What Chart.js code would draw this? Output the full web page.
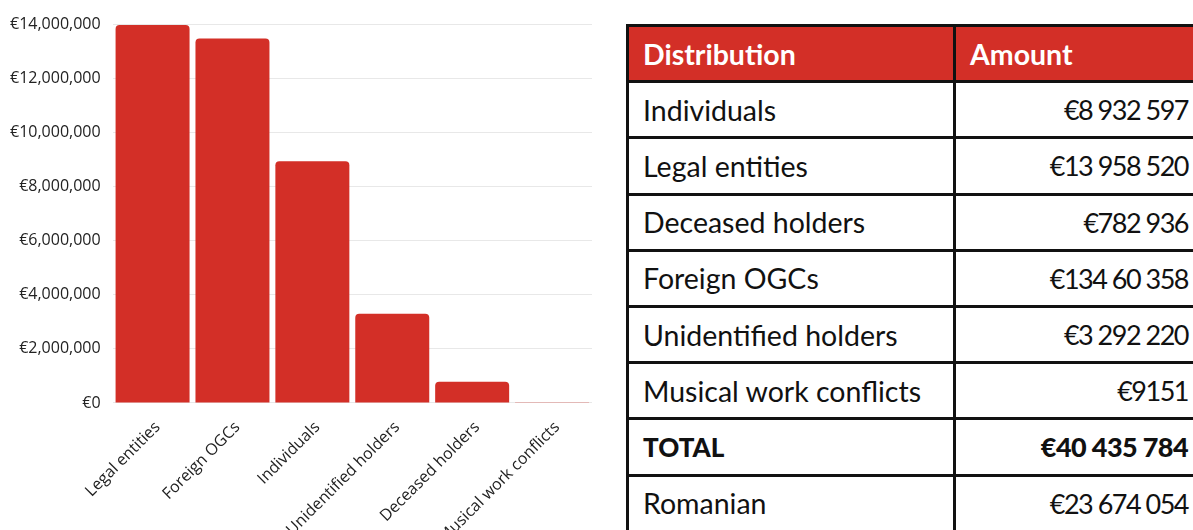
<!DOCTYPE html>
<html>
<head>
<meta charset="utf-8">
<script src="https://cdn.jsdelivr.net/npm/chart.js@4"></script>
<style>
  html, body { margin: 0; padding: 0; background: #fff; overflow: hidden; width: 1193px; height: 530px; }
  #chartBox { position: absolute; left: -2px; top: 0; width: 596px; height: 554px; }
  #tbl { position: absolute; left: 626px; top: 24px; width: 582px; table-layout: fixed; border-collapse: collapse; font-family: Lato, sans-serif; font-size: 28.5px; color: #111; }
  #tbl td, #tbl th { border: 3px solid #111; height: 56.2px; padding: 0 14px; box-sizing: border-box; }
  #tbl th { background: #d32f27; color: #fff; font-weight: 700; text-align: left; font-size: 28.5px; }
  #tbl td.num { text-align: right; font-size: 27px; letter-spacing: -1.5px; padding-right: 17px; }
  #tbl tr.total td { font-weight: 900; font-size: 26px; }
  #tbl tr.total td.num { letter-spacing: -0.6px; font-size: 27px; }
</style>
</head>
<body>
<div id="chartBox"><canvas id="c"></canvas></div>
<table id="tbl">
  <colgroup><col style="width:327px"><col></colgroup>
  <thead><tr><th>Distribution</th><th>Amount</th></tr></thead>
  <tbody id="tb"></tbody>
</table>
<script>
const categories = ["Legal entities", "Foreign OGCs", "Individuals", "Unidentified holders", "Deceased holders", "Musical work conflicts"];
const amounts = [13958520, 13460358, 8932597, 3292220, 782936, 9151];
const yTicks = [0, 2000000, 4000000, 6000000, 8000000, 10000000, 12000000, 14000000];

const tableLabels = ["Individuals", "Legal entities", "Deceased holders", "Foreign OGCs", "Unidentified holders", "Musical work conflicts", "TOTAL", "Romanian"];
const tableAmounts = ["€8 932 597", "€13 958 520", "€782 936", "€134 60 358", "€3 292 220", "€9151", "€40 435 784", "€23 674 054"];

const tb = document.getElementById('tb');
tableLabels.forEach((l, i) => {
  const tr = document.createElement('tr');
  if (l === 'TOTAL') tr.className = 'total';
  tr.innerHTML = '<td>' + l + '</td><td class="num">' + tableAmounts[i] + '</td>';
  tb.appendChild(tr);
});

new Chart(document.getElementById('c'), {
  type: 'bar',
  data: {
    labels: categories,
    datasets: [{
      data: amounts,
      backgroundColor: '#d32f27',
      borderRadius: { topLeft: 4, topRight: 4 },
      borderSkipped: 'bottom',
      barPercentage: 0.926,
      categoryPercentage: 1
    }]
  },
  options: {
    responsive: true,
    maintainAspectRatio: false,
    animation: false,
    layout: { padding: { left: 0, right: 2, top: 24, bottom: 0 } },
    plugins: { legend: { display: false }, tooltip: { enabled: false } },
    scales: {
      x: {
        grid: { display: false },
        border: { display: false },
        ticks: { minRotation: 45, maxRotation: 45, padding: 7, labelOffset: 5, color: '#222', font: { family: 'Open Sans', size: 16 } }
      },
      y: {
        min: 0, max: 14000000,
        afterBuildTicks: (axis) => { axis.ticks = yTicks.map(v => ({ value: v })); },
        grid: { color: '#e8e8e8', drawTicks: false },
        border: { display: false },
        ticks: {
          padding: 12,
          color: '#222',
          font: { family: 'Open Sans', size: 16 },
          callback: (v) => '€' + Number(v).toLocaleString('en-US')
        }
      }
    }
  }
});
</script>
</body>
</html>
